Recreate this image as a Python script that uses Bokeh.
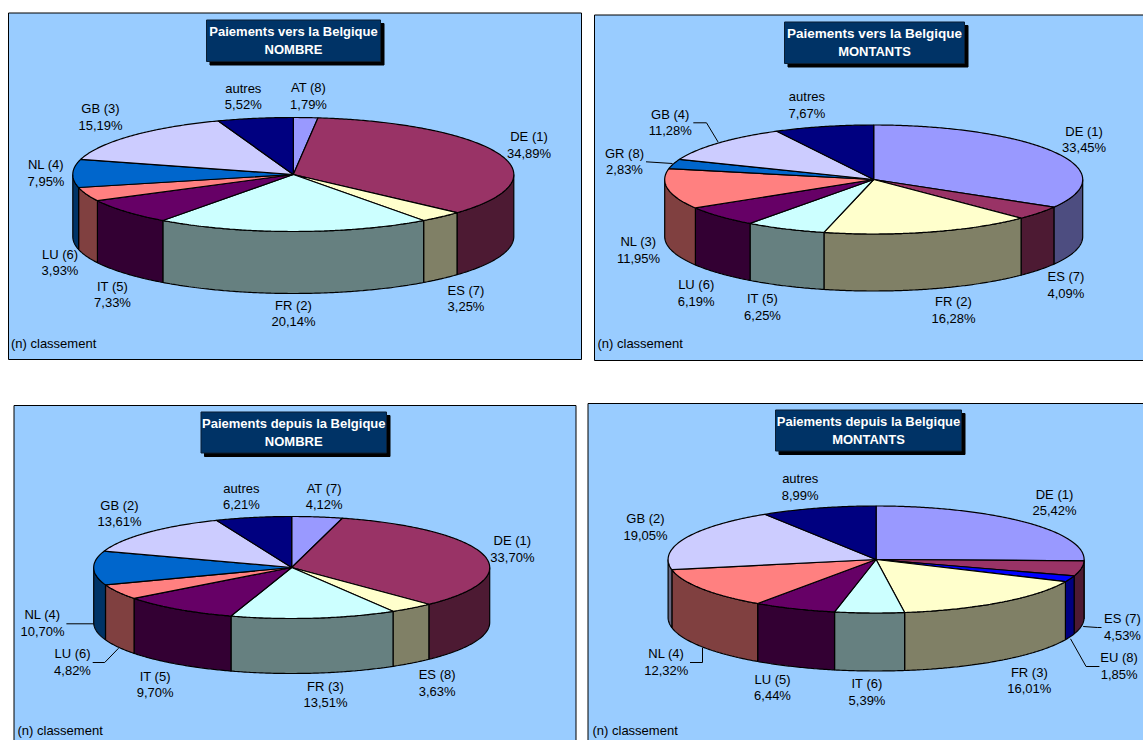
import math
from bokeh.embed import file_html
from bokeh.resources import INLINE
from bokeh.plotting import figure
from bokeh.models import Range1d
from bokeh.core.properties import value

# ---- data ----
vn_labels = ["AT (8)", "DE (1)", "ES (7)", "FR (2)", "IT (5)", "LU (6)", "NL (4)", "GB (3)", "autres"]
vn_values = [1.79, 34.89, 3.25, 20.14, 7.33, 3.93, 7.95, 15.19, 5.52]
vm_labels = ["DE (1)", "ES (7)", "FR (2)", "IT (5)", "LU (6)", "NL (3)", "GR (8)", "GB (4)", "autres"]
vm_values = [33.45, 4.09, 16.28, 6.25, 6.19, 11.95, 2.83, 11.28, 7.67]
dn_labels = ["AT (7)", "DE (1)", "ES (8)", "FR (3)", "IT (5)", "LU (6)", "NL (4)", "GB (2)", "autres"]
dn_values = [4.12, 33.70, 3.63, 13.51, 9.70, 4.82, 10.70, 13.61, 6.21]
dm_labels = ["DE (1)", "ES (7)", "EU (8)", "FR (3)", "IT (6)", "LU (5)", "NL (4)", "GB (2)", "autres"]
dm_values = [25.42, 4.53, 1.85, 16.01, 5.39, 6.44, 12.32, 19.05, 8.99]

# ---- colours (top, side) ----
PERI = ("#9999FF", "#4D4D80")
PLUM = ("#993366", "#4D1A33")
IVORY = ("#FFFFCC", "#808066")
TURQ = ("#CCFFFF", "#668080")
PURP = ("#660066", "#330033")
CORAL = ("#FF8080", "#804040")
OCEAN = ("#0066CC", "#003366")
ICE = ("#CCCCFF", "#666680")
NAVY = ("#000080", "#000040")
BLUE = ("#0000FF", "#000080")

FONT = value("Liberation Sans")
W, H = 1143, 740

p = figure(width=W, height=H, output_backend="svg", toolbar_location=None,
           x_range=Range1d(0, W), y_range=Range1d(H, 0),
           min_border=0, outline_line_color=None, background_fill_color="white",
           border_fill_color="white")
p.axis.visible = False
p.grid.visible = False


def arc(cx, cy, rx, ry, a0, a1, dy=0.0):
    n = max(2, int(abs(a1 - a0) / 0.01))
    xs, ys = [], []
    for i in range(n + 1):
        a = a0 + (a1 - a0) * i / n
        xs.append(cx + rx * math.sin(a))
        ys.append(cy - ry * math.cos(a) + dy)
    return xs, ys


def pie(cx, cy, rx, ry, depth, values, colors):
    total = sum(values)
    angles = [0.0]
    for v in values:
        angles.append(angles[-1] + v / total * 2 * math.pi)
    # visible side wall: the front half of the ellipse
    for i, c in enumerate(colors):
        a0 = max(angles[i], math.pi / 2)
        a1 = min(angles[i + 1], 3 * math.pi / 2)
        if a1 <= a0:
            continue
        tx, ty = arc(cx, cy, rx, ry, a0, a1)
        bx, by = arc(cx, cy, rx, ry, a1, a0, depth)
        p.patch(tx + bx, ty + by, fill_color=c[1], line_color="black", line_width=1.2)
    for i, c in enumerate(colors):
        tx, ty = arc(cx, cy, rx, ry, angles[i], angles[i + 1])
        p.patch([cx] + tx, [cy] + ty, fill_color=c[0], line_color="black", line_width=1.2)


def text(x, y, s, color="#000000", style="normal", size="13px", align="center"):
    p.text([x], [y], text=[s], text_font=FONT, text_font_size=size, text_color=color,
           text_font_style=style, text_align=align, text_baseline="middle")


def panel(frame, box, title, pie_geo, values, labels, colors, places, leaders, note, title_size="13px"):
    x0, y0, x1, y1 = frame
    p.quad(left=x0, right=x1, top=y0, bottom=y1, fill_color="#99CCFF", line_color="#000000", line_width=1)
    bx0, by0, bx1, by1 = box
    p.quad(left=bx0 + 3.5, right=bx1 + 3.5, top=by0 + 3.5, bottom=by1 + 3.5, fill_color="black", line_color="black")
    p.quad(left=bx0, right=bx1, top=by0, bottom=by1, fill_color="#003366", line_color="#0A1E33", line_width=1)
    mid = (bx0 + bx1) / 2
    text(mid, by0 + 11.5, title[0], "white", "bold", title_size)
    text(mid, by0 + 29, title[1], "white", "bold", "13px")
    pie(*pie_geo, values, colors)
    for xs, ys in leaders:
        p.line(xs, ys, line_color="black", line_width=1)
    for lab, val in zip(labels, values):
        x, y = places[lab]
        text(x, y, lab)
        text(x, y + 16.5, f"{val:.2f}%".replace(".", ","))
    text(note[0], note[1], "(n) classement", align="left")


panel((8, 12.5, 581, 359), (206, 19.5, 380, 61), ("Paiements vers la Belgique", "NOMBRE"),
      (292.8, 174, 220.5, 57, 62), vn_values, vn_labels,
      [PERI, PLUM, IVORY, TURQ, PURP, CORAL, OCEAN, ICE, NAVY],
      {"AT (8)": (308, 87), "DE (1)": (528.5, 136), "ES (7)": (465.5, 289.5), "FR (2)": (293, 304.5),
       "IT (5)": (112, 285.5), "LU (6)": (59.5, 253.7), "NL (4)": (45.5, 164), "GB (3)": (100, 108),
       "autres": (242.8, 87.5)},
      [], (10.5, 343))

panel((594, 14.5, 1160, 360), (784, 21.5, 964, 63), ("Paiements vers la Belgique", "MONTANTS"),
      (873.2, 179, 209, 54.5, 57), vm_values, vm_labels,
      [PERI, PLUM, IVORY, TURQ, PURP, CORAL, OCEAN, ICE, NAVY],
      {"DE (1)": (1083.6, 130.5), "ES (7)": (1065.4, 276), "FR (2)": (953, 301), "IT (5)": (762, 298),
       "LU (6)": (695.7, 284), "NL (3)": (638, 241), "GR (8)": (624, 152.5), "GB (4)": (669.7, 113.5),
       "autres": (806.4, 96)},
      [([692.8, 706, 717.7], [122.3, 122.3, 141.7]), ([645.5, 672], [161.3, 163])], (597, 343), "13.5px")

panel((13.5, 405, 575.5, 770), (200.5, 411.5, 386, 452.5), ("Paiements depuis la Belgique", "NOMBRE"),
      (291.2, 567, 198, 51, 55), dn_values, dn_labels,
      [PERI, PLUM, IVORY, TURQ, PURP, CORAL, OCEAN, ICE, NAVY],
      {"AT (7)": (323.7, 487.5), "DE (1)": (511.9, 540), "ES (8)": (436.6, 674), "FR (3)": (325, 685.5),
       "IT (5)": (154.7, 675.5), "LU (6)": (72, 653), "NL (4)": (42, 614), "GB (2)": (119, 504.5),
       "autres": (240.9, 487.5)},
      [([65.9, 93.2], [623.3, 623.3]), ([92.2, 104.2, 118.1], [662, 662, 647.7])], (17, 729.5))

panel((587.5, 403, 1160, 770), (775, 409.5, 961, 450.5), ("Paiements depuis la Belgique", "MONTANTS"),
      (875.6, 559, 208, 53.5, 58), dm_values, dm_labels,
      [PERI, PLUM, BLUE, IVORY, TURQ, PURP, CORAL, ICE, NAVY],
      {"DE (1)": (1054, 493.5), "ES (7)": (1122, 618), "EU (8)": (1118.6, 657), "FR (3)": (1028.8, 671.5),
       "IT (6)": (866.5, 683), "LU (5)": (772, 678.5), "NL (4)": (665.8, 653), "GB (2)": (645, 518),
       "autres": (799.7, 478)},
      [([689.5, 702, 702], [662, 662, 647.3]), ([1101, 1097, 1082.7], [627, 627, 626]),
       ([1098.9, 1085.6, 1070], [666, 666, 638.3])], (592, 729.5))

open("out.html", "w").write(file_html(p, INLINE))
